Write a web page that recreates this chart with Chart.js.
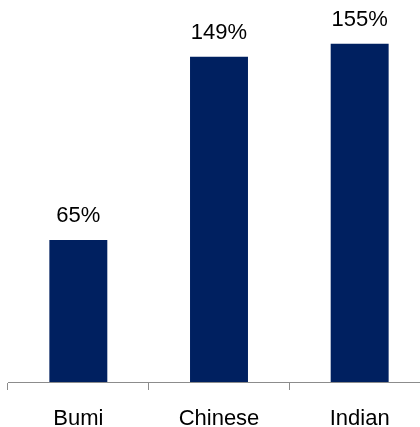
<!DOCTYPE html>
<html>
<head>
<meta charset="utf-8">
<script src="https://cdn.jsdelivr.net/npm/chart.js@4"></script>
<style>
  html, body { margin: 0; padding: 0; background: #fff; overflow: hidden; }
  #wrap { position: absolute; left: 0; top: 0; width: 440px; height: 440px; }
</style>
</head>
<body>
<div id="wrap"><canvas id="myChart"></canvas></div>
<script>
const categories = ['Bumi', 'Chinese', 'Indian'];
const shareValues = [65, 149, 155];
const valueLabels = ['65%', '149%', '155%'];

const FONT = '"Liberation Sans", Arial, sans-serif';

// draws the % text above each bar
const barLabels = {
    id: 'barLabels',
    afterDatasetsDraw(chart) {
        const ctx = chart.ctx;
        const meta = chart.getDatasetMeta(0);
        ctx.save();
        ctx.font = '22px ' + FONT;
        ctx.fillStyle = '#000';
        ctx.textAlign = 'center';
        ctx.textBaseline = 'middle';
        meta.data.forEach((bar, i) => {
            ctx.fillText(valueLabels[i], bar.x, bar.y - 24);
        });
        ctx.restore();
    }
};

const ctx = document.getElementById('myChart').getContext('2d');

new Chart(ctx, {
    type: 'bar',
    data: {
        labels: categories,
        datasets: [{
            data: shareValues,
            backgroundColor: '#002060',
            borderWidth: 0,
            categoryPercentage: 1,
            barPercentage: 0.412
        }]
    },
    options: {
        responsive: true,
        maintainAspectRatio: false,
        animation: false,
        layout: { padding: { left: 8, right: 10, top: 0, bottom: 0 } },
        plugins: {
            legend: { display: false },
            tooltip: { enabled: false }
        },
        scales: {
            x: {
                offset: true,
                grid: {
                    offset: true,
                    drawOnChartArea: false,
                    drawTicks: true,
                    tickLength: 8,
                    color: '#8c8c8c'
                },
                border: { color: '#8c8c8c', width: 1 },
                ticks: {
                    color: '#000',
                    padding: 16,
                    font: { family: FONT, size: 22 }
                },
                afterFit(scale) { scale.height = 58; }
            },
            y: {
                display: false,
                min: 0,
                max: 175
            }
        }
    },
    plugins: [barLabels]
});
</script>
</body>
</html>
